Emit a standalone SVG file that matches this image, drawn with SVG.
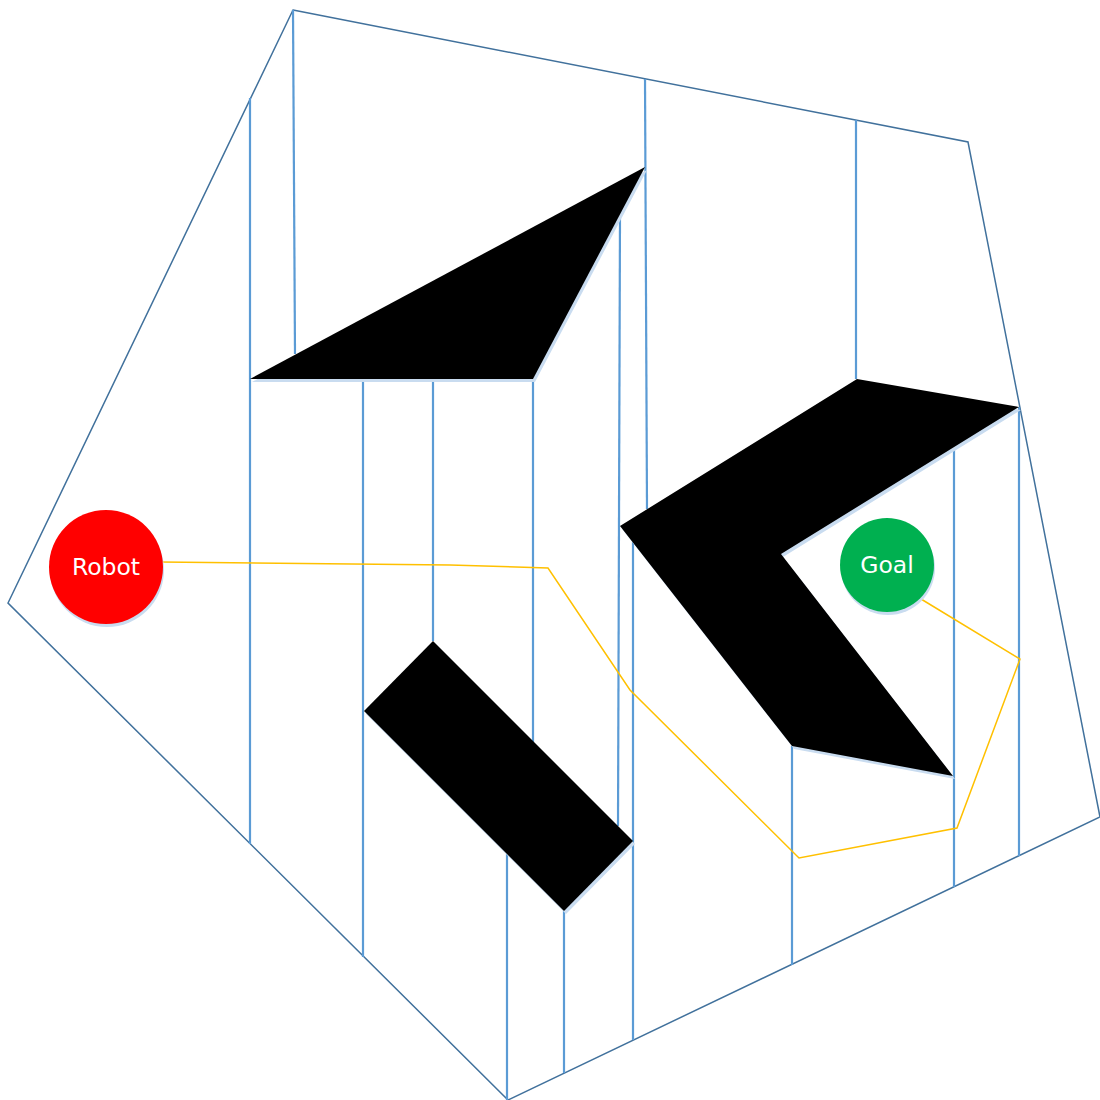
<svg xmlns="http://www.w3.org/2000/svg" width="1100" height="1100" viewBox="0 0 1100 1100">
<style>
.outer{fill:none;stroke:#41719C;stroke-width:1.5}
.v{stroke:#5B9BD5;stroke-width:2.2;fill:none}
.obs{fill:#000}
.sh{fill:#C9DCF0}
.path{fill:none;stroke:#FFC000;stroke-width:1.5}
.lbl{font-family:"DejaVu Sans",sans-serif;font-size:23.5px;fill:#fff;text-anchor:middle;dominant-baseline:central}
</style>
<rect width="1100" height="1100" fill="#fff"/>
<g id="boundary">
<polygon class="outer" points="293,10 968,142 1100,817 508,1100 8,603"/>
</g>
<g id="connectors">
<line class="v" x1="250" y1="98" x2="250" y2="844"/>
<line class="v" x1="293" y1="10" x2="295" y2="354"/>
<line class="v" x1="363" y1="379" x2="363" y2="957"/>
<line class="v" x1="433" y1="379" x2="433" y2="641"/>
<line class="v" x1="533" y1="379" x2="533" y2="742"/>
<line class="v" x1="645" y1="79" x2="647" y2="509"/>
<line class="v" x1="620" y1="214" x2="618" y2="826"/>
<line class="v" x1="633" y1="542" x2="633" y2="1040"/>
<line class="v" x1="507" y1="854" x2="507" y2="1100"/>
<line class="v" x1="564" y1="911" x2="564" y2="1073"/>
<line class="v" x1="792" y1="746" x2="792" y2="965"/>
<line class="v" x1="856" y1="120" x2="856" y2="379"/>
<line class="v" x1="954" y1="447" x2="954" y2="887"/>
<line class="v" x1="1019" y1="407" x2="1019" y2="856"/>
<polyline class="path" points="160,562 450,565 548,568 630,690 799,858 957,828 1020,659 921,599"/>
</g>
<g id="obstacle-triangle">
<polygon class="sh" points="252,382 647,170 535,382"/>
<polygon class="obs" points="250,379 645,167 533,379"/>
</g>
<g id="obstacle-chevron">
<polygon class="sh" points="622,529 859,382 1021,410 783,557 955,779 794,749"/>
<polygon class="obs" points="620,526 857,379 1019,407 781,554 953,776 792,746"/>
</g>
<g id="obstacle-rect">
<polygon class="sh" points="435,644 635,844 566,914 366,714"/>
<polygon class="obs" points="433,641 633,841 564,911 364,711"/>
</g>
<g id="robot">
<circle cx="107" cy="570" r="57" fill="#C9DCF0"/>
<circle cx="106" cy="567" r="57" fill="#FF0000"/>
<text class="lbl" x="106" y="567">Robot</text>
</g>
<g id="goal">
<circle cx="888" cy="568" r="47" fill="#C9DCF0"/>
<circle cx="887" cy="565" r="47" fill="#00B050"/>
<text class="lbl" x="887" y="565">Goal</text>
</g>
</svg>
